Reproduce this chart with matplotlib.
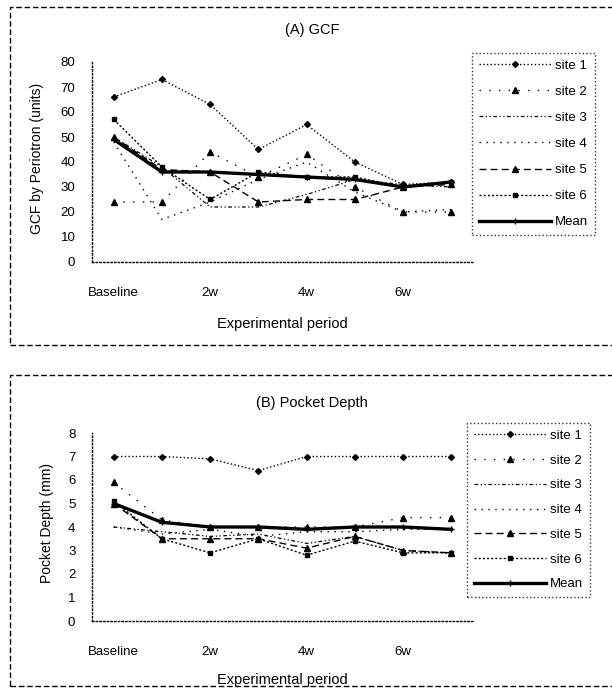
import matplotlib
matplotlib.use("Agg")
import matplotlib.pyplot as plt
from matplotlib.patches import Rectangle

# ---------------- data ----------------
periods = ["Baseline", "1w", "2w", "3w", "4w", "5w", "6w", "7w"]
tick_idx = [0, 2, 4, 6]
tick_labels = ["Baseline", "2w", "4w", "6w"]
series_names = ["site 1", "site 2", "site 3", "site 4", "site 5", "site 6", "Mean"]

gcf_site1 = [66, 73, 63, 45, 55, 40, 31, 32]
gcf_site2 = [24, 24, 44, 34, 43, 30, 20, 20]
gcf_site3 = [50, 38, 22, 22, 27, 33, 31, 30]
gcf_site4 = [48, 17, 24, 33, 40, 28, 20, 21]
gcf_site5 = [50, 37, 36, 24, 25, 25, 30, 31]
gcf_site6 = [57, 38, 25, 36, 34, 34, 30, 32]
gcf_mean = [49, 36, 36, 35, 34, 33, 30, 32]

pd_site1 = [7.0, 7.0, 6.9, 6.4, 7.0, 7.0, 7.0, 7.0]
pd_site2 = [5.9, 4.3, 4.0, 4.0, 4.0, 4.0, 4.4, 4.4]
pd_site3 = [4.0, 3.8, 3.6, 3.7, 3.3, 3.6, 3.0, 2.9]
pd_site4 = [4.0, 3.7, 3.9, 3.6, 3.8, 3.8, 3.9, 3.9]
pd_site5 = [5.0, 3.5, 3.5, 3.5, 3.1, 3.6, 3.0, 2.9]
pd_site6 = [5.1, 3.5, 2.9, 3.5, 2.8, 3.4, 2.9, 2.9]
pd_mean = [5.0, 4.2, 4.0, 4.0, 3.9, 4.0, 4.0, 3.9]

gcf_all = [gcf_site1, gcf_site2, gcf_site3, gcf_site4, gcf_site5, gcf_site6, gcf_mean]
pd_all = [pd_site1, pd_site2, pd_site3, pd_site4, pd_site5, pd_site6, pd_mean]

styles = [
    dict(ls=":", lw=1.0, marker="D", ms=3),
    dict(ls=(0, (1, 6)), lw=1.0, marker="^", ms=4),
    dict(ls=(0, (3, 2, 1, 2, 1, 2)), lw=0.9, marker=None),
    dict(ls=(0, (1, 4)), lw=1.0, marker=None),
    dict(ls=(0, (5, 3)), lw=1.0, marker="^", ms=4),
    dict(ls=(0, (1.5, 1.5)), lw=1.0, marker="s", ms=3),
    dict(ls="-", lw=2.4, marker="+", ms=5),
]

plt.rcParams["font.family"] = ["Liberation Sans", "DejaVu Sans"]
W, H = 612, 695
fig = plt.figure(figsize=(W / 100, H / 100), dpi=100)


def rect(l, r, t, b):
    return [l / W, 1 - b / H, (r - l) / W, (b - t) / H]


def frame(l, t, r, b):
    fig.patches.append(Rectangle((l / W, 1 - b / H), (r - l) / W, (b - t) / H,
                                 transform=fig.transFigure, fill=False,
                                 edgecolor="black", lw=1.0, ls=(0, (4, 2)),
                                 clip_on=False))


def panel(ax, data, ymax, ystep, title, ylabel, title_y, leg_xy, ylab_x, xlab_y, lspace):
    x = list(range(len(periods)))
    for vals, st, name in zip(data, styles, series_names):
        ax.plot(x, vals, color="black", linestyle=st["ls"], lw=st["lw"],
                marker=st["marker"], ms=st.get("ms", 0), mew=1.0, label=name)
    ax.set_xlim(-0.45, 7.45)
    ax.set_ylim(0, ymax)
    ax.set_yticks([i * ystep for i in range(int(ymax / ystep) + 1)])
    ax.set_xticks(tick_idx)
    ax.set_xticklabels(tick_labels)
    ax.tick_params(axis="both", length=0, labelsize=9.5)
    ax.tick_params(axis="x", pad=18)
    ax.tick_params(axis="y", pad=12)
    for s in ["top", "right"]:
        ax.spines[s].set_visible(False)
    for s in ["left", "bottom"]:
        ax.spines[s].set_linestyle(":")
        ax.spines[s].set_linewidth(1.0)
    ax.set_xlabel("Experimental period", fontsize=10.5)
    ax.xaxis.set_label_coords(0.5, xlab_y)
    ax.set_ylabel(ylabel, fontsize=10)
    ax.yaxis.set_label_coords(ylab_x, 0.52)
    fig.text(0.51, 1 - title_y / H, title, ha="center", va="center", fontsize=10.5)
    leg = ax.legend(loc="upper left", bbox_to_anchor=(leg_xy[0] / W, 1 - leg_xy[1] / H),
                    bbox_transform=fig.transFigure, borderaxespad=0, fancybox=False,
                    fontsize=9.5, handlelength=5.5, handletextpad=0.3, labelspacing=lspace,
                    numpoints=1, borderpad=0.5)
    leg.get_frame().set_linestyle(":")
    leg.get_frame().set_edgecolor("black")
    leg.get_frame().set_linewidth(1.0)


axA = fig.add_axes(rect(92, 473, 62, 262))
panel(axA, gcf_all, 80, 10, "(A) GCF", "GCF by Periotron (units)", 30,
      (472, 53), -0.125, -0.275, 1.05)

axB = fig.add_axes(rect(92, 473, 433, 621))
panel(axB, pd_all, 8, 1, "(B) Pocket Depth", "Pocket Depth (mm)", 403,
      (467, 423), -0.10, -0.275, 0.95)

frame(10, 7, 640, 345)
frame(10, 375, 640, 686)

fig.savefig("out.png", dpi=100)
